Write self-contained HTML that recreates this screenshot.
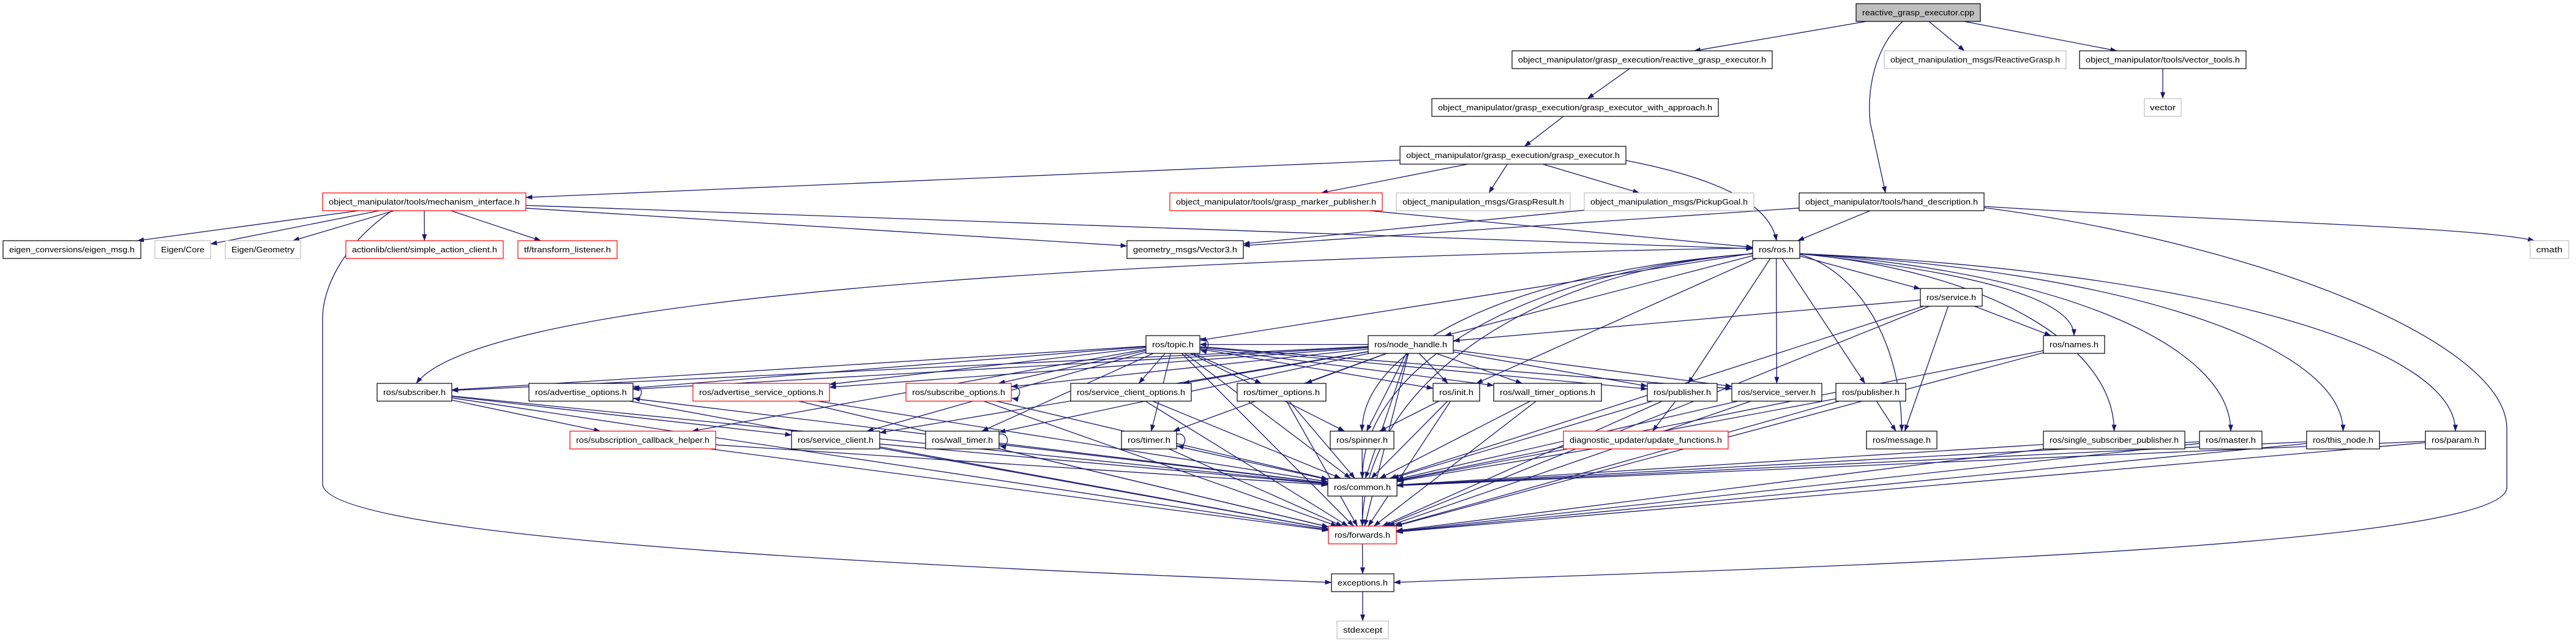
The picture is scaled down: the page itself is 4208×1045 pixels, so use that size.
<!DOCTYPE html>
<html><head><meta charset="utf-8"><style>
html,body{margin:0;padding:0;background:#fff;}
svg{display:block;}
text{font-family:"Liberation Sans",sans-serif;font-size:13px;fill:#000;}
</style></head><body>
<svg id="g" xmlns="http://www.w3.org/2000/svg" width="4208" height="1045" viewBox="0 0 4208 1045">
<defs><marker id="a" markerWidth="11" markerHeight="8" refX="10.5" refY="4" orient="auto" markerUnits="userSpaceOnUse"><path d="M0,0 L11,4 L0,8 z" fill="#191970"/></marker></defs>
<g fill="none" stroke="#191970" stroke-width="1.3">
<path d="M3108,35 C3060,80 3050,150 3055,200 L3080,315" marker-end="url(#a)"/>
<path d="M2656,262 C2800,290 2890,330 2902,393" marker-end="url(#a)"/>
<path d="M3241,337 C3600,360 4050,370 4140,393" marker-end="url(#a)"/>
<path d="M3241,339 C3700,400 4095,560 4095,700 L4095,796 C4095,900 2800,930 2277,951" marker-end="url(#a)"/>
<path d="M640,344 C560,400 527,470 527,520 L527,790 C527,880 1500,925 2175,951" marker-end="url(#a)"/>
<path d="M2863,405 C2000,420 800,470 680,626" marker-end="url(#a)"/>
</g>
<g id="edges" fill="none" stroke="#191970" stroke-width="1.3"></g>
<g id="nodes" stroke-width="1.2">
<g id="cpp"><rect x="3032" y="6" width="203" height="29" fill="#bfbfbf" stroke="#000"/><text x="3133.5" y="25" text-anchor="middle" textLength="183" lengthAdjust="spacingAndGlyphs">reactive_grasp_executor.cpp</text></g>
<g id="rge"><rect x="2470" y="83" width="425" height="29" fill="#fff" stroke="#000"/><text x="2682.5" y="102" text-anchor="middle" textLength="405" lengthAdjust="spacingAndGlyphs">object_manipulator/grasp_execution/reactive_grasp_executor.h</text></g>
<g id="rg"><rect x="3078" y="83" width="297" height="29" fill="#fff" stroke="#bfbfbf"/><text x="3226.5" y="102" text-anchor="middle" textLength="277" lengthAdjust="spacingAndGlyphs">object_manipulation_msgs/ReactiveGrasp.h</text></g>
<g id="vt"><rect x="3397" y="83" width="272" height="29" fill="#fff" stroke="#000"/><text x="3533" y="102" text-anchor="middle" textLength="252" lengthAdjust="spacingAndGlyphs">object_manipulator/tools/vector_tools.h</text></g>
<g id="vec"><rect x="3503" y="161" width="60" height="29" fill="#fff" stroke="#bfbfbf"/><text x="3533" y="180" text-anchor="middle" textLength="42" lengthAdjust="spacingAndGlyphs">vector</text></g>
<g id="wa"><rect x="2339" y="161" width="468" height="29" fill="#fff" stroke="#000"/><text x="2573" y="180" text-anchor="middle" textLength="448" lengthAdjust="spacingAndGlyphs">object_manipulator/grasp_execution/grasp_executor_with_approach.h</text></g>
<g id="ge"><rect x="2287" y="239" width="369" height="29" fill="#fff" stroke="#000"/><text x="2471.5" y="258" text-anchor="middle" textLength="349" lengthAdjust="spacingAndGlyphs">object_manipulator/grasp_execution/grasp_executor.h</text></g>
<g id="mi"><rect x="527" y="315" width="332" height="29" fill="#fff" stroke="#ff0000"/><text x="693" y="334" text-anchor="middle" textLength="312" lengthAdjust="spacingAndGlyphs">object_manipulator/tools/mechanism_interface.h</text></g>
<g id="gmp"><rect x="1911" y="315" width="347" height="29" fill="#fff" stroke="#ff0000"/><text x="2084.5" y="334" text-anchor="middle" textLength="327" lengthAdjust="spacingAndGlyphs">object_manipulator/tools/grasp_marker_publisher.h</text></g>
<g id="gr"><rect x="2281" y="315" width="284" height="29" fill="#fff" stroke="#bfbfbf"/><text x="2423" y="334" text-anchor="middle" textLength="264" lengthAdjust="spacingAndGlyphs">object_manipulation_msgs/GraspResult.h</text></g>
<g id="pg"><rect x="2588" y="315" width="277" height="29" fill="#fff" stroke="#bfbfbf"/><text x="2726.5" y="334" text-anchor="middle" textLength="257" lengthAdjust="spacingAndGlyphs">object_manipulation_msgs/PickupGoal.h</text></g>
<g id="hd"><rect x="2939" y="315" width="302" height="29" fill="#fff" stroke="#000"/><text x="3090" y="334" text-anchor="middle" textLength="282" lengthAdjust="spacingAndGlyphs">object_manipulator/tools/hand_description.h</text></g>
<g id="em"><rect x="5" y="393" width="225" height="29" fill="#fff" stroke="#000"/><text x="117.5" y="412" text-anchor="middle" textLength="205" lengthAdjust="spacingAndGlyphs">eigen_conversions/eigen_msg.h</text></g>
<g id="ec"><rect x="253" y="393" width="91" height="29" fill="#fff" stroke="#bfbfbf"/><text x="298.5" y="412" text-anchor="middle" textLength="71" lengthAdjust="spacingAndGlyphs">Eigen/Core</text></g>
<g id="eg"><rect x="368" y="393" width="123" height="29" fill="#fff" stroke="#bfbfbf"/><text x="429.5" y="412" text-anchor="middle" textLength="103" lengthAdjust="spacingAndGlyphs">Eigen/Geometry</text></g>
<g id="al"><rect x="565" y="393" width="257" height="29" fill="#fff" stroke="#ff0000"/><text x="693.5" y="412" text-anchor="middle" textLength="237" lengthAdjust="spacingAndGlyphs">actionlib/client/simple_action_client.h</text></g>
<g id="tf"><rect x="846" y="393" width="162" height="29" fill="#fff" stroke="#ff0000"/><text x="927" y="412" text-anchor="middle" textLength="142" lengthAdjust="spacingAndGlyphs">tf/transform_listener.h</text></g>
<g id="v3"><rect x="1841" y="393" width="190" height="29" fill="#fff" stroke="#000"/><text x="1936" y="412" text-anchor="middle" textLength="170" lengthAdjust="spacingAndGlyphs">geometry_msgs/Vector3.h</text></g>
<g id="ros"><rect x="2863" y="393" width="77" height="29" fill="#fff" stroke="#000"/><text x="2901.5" y="412" text-anchor="middle" textLength="57" lengthAdjust="spacingAndGlyphs">ros/ros.h</text></g>
<g id="cm"><rect x="4133" y="393" width="63" height="29" fill="#fff" stroke="#bfbfbf"/><text x="4164.5" y="412" text-anchor="middle" textLength="43" lengthAdjust="spacingAndGlyphs">cmath</text></g>
<g id="svc"><rect x="3137" y="471" width="101" height="29" fill="#fff" stroke="#000"/><text x="3187.5" y="490" text-anchor="middle" textLength="81" lengthAdjust="spacingAndGlyphs">ros/service.h</text></g>
<g id="top"><rect x="1872" y="548" width="88" height="29" fill="#fff" stroke="#000"/><text x="1916" y="567" text-anchor="middle" textLength="68" lengthAdjust="spacingAndGlyphs">ros/topic.h</text></g>
<g id="nh"><rect x="2235" y="548" width="139" height="29" fill="#fff" stroke="#000"/><text x="2304.5" y="567" text-anchor="middle" textLength="119" lengthAdjust="spacingAndGlyphs">ros/node_handle.h</text></g>
<g id="nm"><rect x="3338" y="548" width="100" height="29" fill="#fff" stroke="#000"/><text x="3388" y="567" text-anchor="middle" textLength="80" lengthAdjust="spacingAndGlyphs">ros/names.h</text></g>
<g id="sub"><rect x="616" y="626" width="122" height="29" fill="#fff" stroke="#000"/><text x="677" y="645" text-anchor="middle" textLength="102" lengthAdjust="spacingAndGlyphs">ros/subscriber.h</text></g>
<g id="ao"><rect x="864" y="626" width="170" height="29" fill="#fff" stroke="#000"/><text x="949" y="645" text-anchor="middle" textLength="150" lengthAdjust="spacingAndGlyphs">ros/advertise_options.h</text></g>
<g id="aso"><rect x="1132" y="626" width="223" height="29" fill="#fff" stroke="#ff0000"/><text x="1243.5" y="645" text-anchor="middle" textLength="203" lengthAdjust="spacingAndGlyphs">ros/advertise_service_options.h</text></g>
<g id="so"><rect x="1480" y="626" width="172" height="29" fill="#fff" stroke="#ff0000"/><text x="1566" y="645" text-anchor="middle" textLength="152" lengthAdjust="spacingAndGlyphs">ros/subscribe_options.h</text></g>
<g id="sco"><rect x="1749" y="626" width="197" height="29" fill="#fff" stroke="#000"/><text x="1847.5" y="645" text-anchor="middle" textLength="177" lengthAdjust="spacingAndGlyphs">ros/service_client_options.h</text></g>
<g id="to"><rect x="2021" y="626" width="145" height="29" fill="#fff" stroke="#000"/><text x="2093.5" y="645" text-anchor="middle" textLength="125" lengthAdjust="spacingAndGlyphs">ros/timer_options.h</text></g>
<g id="ini"><rect x="2341" y="626" width="76" height="29" fill="#fff" stroke="#000"/><text x="2379" y="645" text-anchor="middle" textLength="56" lengthAdjust="spacingAndGlyphs">ros/init.h</text></g>
<g id="wto"><rect x="2440" y="626" width="176" height="29" fill="#fff" stroke="#000"/><text x="2528" y="645" text-anchor="middle" textLength="156" lengthAdjust="spacingAndGlyphs">ros/wall_timer_options.h</text></g>
<g id="p1"><rect x="2691" y="626" width="114" height="29" fill="#fff" stroke="#000"/><text x="2748" y="645" text-anchor="middle" textLength="94" lengthAdjust="spacingAndGlyphs">ros/publisher.h</text></g>
<g id="ss"><rect x="2829" y="626" width="147" height="29" fill="#fff" stroke="#000"/><text x="2902.5" y="645" text-anchor="middle" textLength="127" lengthAdjust="spacingAndGlyphs">ros/service_server.h</text></g>
<g id="p2"><rect x="2999" y="626" width="114" height="29" fill="#fff" stroke="#000"/><text x="3056" y="645" text-anchor="middle" textLength="94" lengthAdjust="spacingAndGlyphs">ros/publisher.h</text></g>
<g id="sch"><rect x="931" y="704" width="238" height="29" fill="#fff" stroke="#ff0000"/><text x="1050" y="723" text-anchor="middle" textLength="218" lengthAdjust="spacingAndGlyphs">ros/subscription_callback_helper.h</text></g>
<g id="sc"><rect x="1293" y="704" width="144" height="29" fill="#fff" stroke="#000"/><text x="1365" y="723" text-anchor="middle" textLength="124" lengthAdjust="spacingAndGlyphs">ros/service_client.h</text></g>
<g id="wt"><rect x="1512" y="704" width="120" height="29" fill="#fff" stroke="#000"/><text x="1572" y="723" text-anchor="middle" textLength="100" lengthAdjust="spacingAndGlyphs">ros/wall_timer.h</text></g>
<g id="tm"><rect x="1832" y="704" width="90" height="29" fill="#fff" stroke="#000"/><text x="1877" y="723" text-anchor="middle" textLength="70" lengthAdjust="spacingAndGlyphs">ros/timer.h</text></g>
<g id="sp"><rect x="2173" y="704" width="104" height="29" fill="#fff" stroke="#000"/><text x="2225" y="723" text-anchor="middle" textLength="84" lengthAdjust="spacingAndGlyphs">ros/spinner.h</text></g>
<g id="du"><rect x="2554" y="704" width="269" height="29" fill="#fff" stroke="#ff0000"/><text x="2688.5" y="723" text-anchor="middle" textLength="249" lengthAdjust="spacingAndGlyphs">diagnostic_updater/update_functions.h</text></g>
<g id="msg"><rect x="3049" y="704" width="115" height="29" fill="#fff" stroke="#000"/><text x="3106.5" y="723" text-anchor="middle" textLength="95" lengthAdjust="spacingAndGlyphs">ros/message.h</text></g>
<g id="ssp"><rect x="3338" y="704" width="231" height="29" fill="#fff" stroke="#000"/><text x="3453.5" y="723" text-anchor="middle" textLength="211" lengthAdjust="spacingAndGlyphs">ros/single_subscriber_publisher.h</text></g>
<g id="ms"><rect x="3593" y="704" width="102" height="29" fill="#fff" stroke="#000"/><text x="3644" y="723" text-anchor="middle" textLength="82" lengthAdjust="spacingAndGlyphs">ros/master.h</text></g>
<g id="tn"><rect x="3768" y="704" width="119" height="29" fill="#fff" stroke="#000"/><text x="3827.5" y="723" text-anchor="middle" textLength="99" lengthAdjust="spacingAndGlyphs">ros/this_node.h</text></g>
<g id="pa"><rect x="3962" y="704" width="98" height="29" fill="#fff" stroke="#000"/><text x="4011" y="723" text-anchor="middle" textLength="78" lengthAdjust="spacingAndGlyphs">ros/param.h</text></g>
<g id="co"><rect x="2169" y="781" width="113" height="29" fill="#fff" stroke="#000"/><text x="2225.5" y="800" text-anchor="middle" textLength="93" lengthAdjust="spacingAndGlyphs">ros/common.h</text></g>
<g id="fw"><rect x="2170" y="859" width="111" height="29" fill="#fff" stroke="#ff0000"/><text x="2225.5" y="878" text-anchor="middle" textLength="91" lengthAdjust="spacingAndGlyphs">ros/forwards.h</text></g>
<g id="ex"><rect x="2175" y="937" width="102" height="29" fill="#fff" stroke="#000"/><text x="2226" y="956" text-anchor="middle" textLength="82" lengthAdjust="spacingAndGlyphs">exceptions.h</text></g>
<g id="sx"><rect x="2184" y="1014" width="84" height="29" fill="#fff" stroke="#bfbfbf"/><text x="2226" y="1033" text-anchor="middle" textLength="64" lengthAdjust="spacingAndGlyphs">stdexcept</text></g>
</g>
</svg>
<script>
(function(){
var E=[
['cpp','rge'],['cpp','rg'],['cpp','vt'],['rge','wa'],['wa','ge'],
['ge','mi'],['ge','gmp'],['ge','gr'],['ge','pg'],['vt','vec'],
['hd','v3'],['hd','ros'],
['mi','em'],['mi','ec'],['mi','eg'],['mi','al'],['mi','tf'],['mi','v3'],['mi','ros'],
['gmp','ros'],['pg','v3'],
['ros','top'],['ros','nh'],['ros','svc'],['ros','nm',1],['ros','ini'],['ros','p1'],['ros','ss'],['ros','p2'],['ros','ssp',1],['ros','ms',1],['ros','tn',1],['ros','pa',1],['ros','sp',1],['ros','msg',1],['ros','co',1],['ros','fw',1],
['top','sub'],['top','ao'],['top','aso'],['top','so'],['top','sco'],['top','to'],['top','ini'],['top','wto'],['top','p1'],['top','ss'],['top','co'],['top','fw'],['top','tm'],['top','sp'],['top','wt'],['top','sc'],['top','sch'],
['nh','top'],['nh','sub'],['nh','ao'],['nh','aso'],['nh','so'],['nh','sco'],['nh','to'],['nh','ini'],['nh','wto'],['nh','p1'],['nh','ss'],['nh','sp'],['nh','tm'],['nh','wt'],['nh','sc'],['nh','co'],['nh','fw'],
['svc','nm'],['svc','msg'],['svc','co'],['svc','fw'],['svc','nh'],
['nm','co'],['nm','fw'],['ini','sp'],['ini','co'],['ini','fw'],
['sub','co'],['sub','fw'],['sub','sc'],['sub','sch'],['ao','co'],['ao','fw'],['aso','co'],['aso','fw'],['so','co'],['so','fw'],
['sco','co'],['sco','fw'],['to','co'],['to','fw'],['wto','co'],['wto','fw'],['p1','du'],['p1','co'],['p1','fw'],
['ss','co'],['ss','fw'],['p2','msg'],['p2','co'],['p2','fw'],['sch','co'],['sch','fw'],['sc','co'],['sc','fw'],
['wt','co'],['wt','fw'],['tm','co'],['tm','fw'],['sp','co'],['ssp','co'],['ssp','fw'],['ms','co'],['ms','fw'],
['tn','co'],['tn','fw'],['pa','co'],['pa','fw'],['du','co'],['co','fw'],['fw','ex'],['ex','sx']
];
function R(id){var r=document.getElementById(id).querySelector('rect');var x=+r.getAttribute('x'),y=+r.getAttribute('y'),w=+r.getAttribute('width'),h=+r.getAttribute('height');return {x:x,y:y,w:w,h:h,cx:x+w/2,cy:y+h/2};}
function clip(r,tx,ty){var dx=tx-r.cx,dy=ty-r.cy;var t=Infinity;if(dx)t=Math.min(t,(r.w/2)/Math.abs(dx));if(dy)t=Math.min(t,(r.h/2)/Math.abs(dy));return [r.cx+dx*t,r.cy+dy*t];}
var g=document.getElementById('edges'),out='';
E.forEach(function(e){var a=R(e[0]),b=R(e[1]);var d;
 if(e[2]){var sy=a.y+a.h, ty=b.y;
  var sx=a.cx+(b.cx>a.cx?a.w/2:-a.w/2)*0.9, tx=b.cx;
  d='M'+sx+','+(sy-8)+' C'+(sx+(tx-sx)*0.6)+','+(sy+20)+' '+tx+','+(ty-(ty-sy)*0.5)+' '+tx+','+ty;
 }else{var p=clip(a,b.cx,b.cy),q=clip(b,a.cx,a.cy);d='M'+p[0]+','+p[1]+' L'+q[0]+','+q[1];}
 out+='<path d="'+d+'" marker-end="url(#a)"/>';});
['top','ao','so','wt','tm'].forEach(function(id){var r=R(id);var x=r.x+r.w,y1=r.y+5,y2=r.y+r.h-5;out+='<path d="M'+x+','+y1+' C'+(x+18)+','+(y1-4)+' '+(x+18)+','+(y2+4)+' '+(x+1)+','+y2+'" marker-end="url(#a)"/>';});
g.innerHTML=out;
})();
</script>
</body></html>
